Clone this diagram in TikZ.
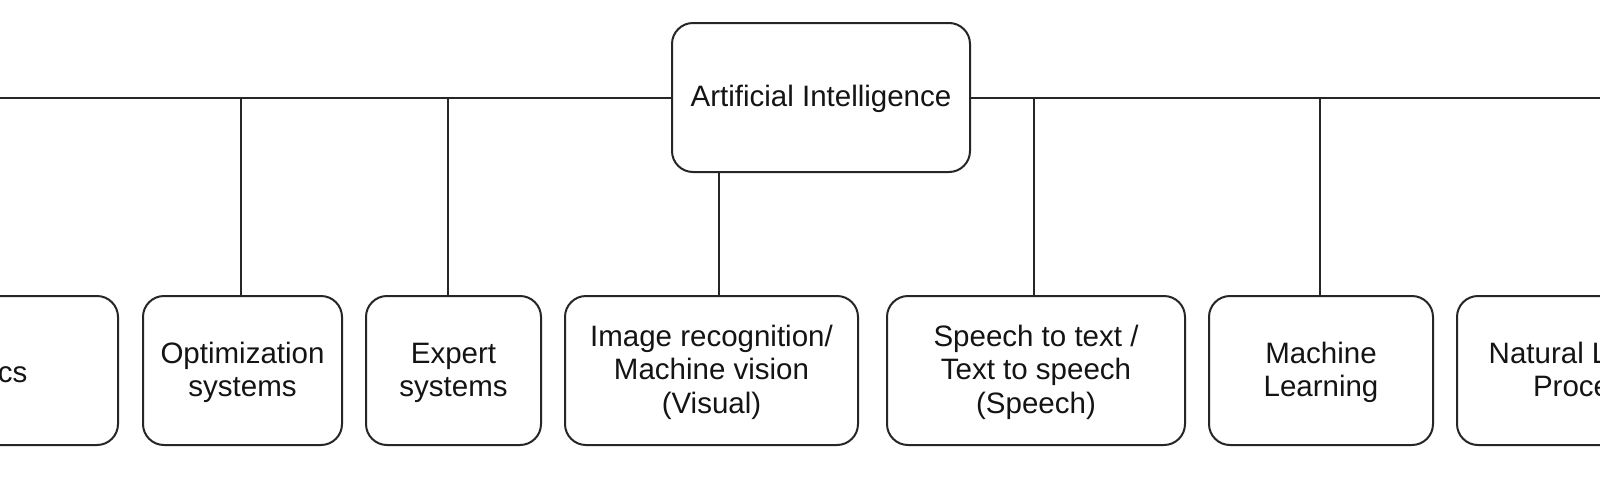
\documentclass[tikz,border=0pt]{standalone}
\usepackage{fontspec}
\setmainfont{Liberation Sans}
\newcommand\tup{\rule{0pt}{25pt}}
\begin{document}
\begin{tikzpicture}[x=1pt,y=-1pt,
  box/.style={draw=black!85, line width=2pt, rounded corners=21pt, fill=white,
    inner sep=0pt, align=center, minimum height=149pt, text=black!92,
    font=\fontsize{29.5}{33.5}\selectfont},
  conn/.style={draw=black!85, line width=2pt}]
\clip (0,0) rectangle (1600,480);
\fill[white] (0,0) rectangle (1600,480);
\node[box, minimum width=298pt] (ai) at (821,97.5) {\tup Artificial Intelligence};
\node[box, minimum width=296pt] (rob) at (-30,370.5) {\tup Robotics};
\node[box, minimum width=199pt] (opt) at (242.5,370.5) {\tup Optimization\\systems};
\node[box, minimum width=175pt] (exp) at (453.5,370.5) {\tup Expert\\systems};
\node[box, minimum width=293pt] (img) at (711.5,370.5) {\tup Image recognition/\\Machine vision\\(Visual)};
\node[box, minimum width=298pt] (sp) at (1036,370.5) {\tup Speech to text /\\Text to speech\\(Speech)};
\node[box, minimum width=224pt] (ml) at (1321,370.5) {\tup Machine\\Learning};
\node[box, minimum width=298pt] (nlp) at (1606,370.5) {\tup Natural Language\\Processing};
\draw[conn] (rob.north) |- (ai.west);
\draw[conn] ([xshift=-1.5pt]opt.north) |- (ai.west);
\draw[conn] ([xshift=-5.5pt]exp.north) |- (ai.west);
\draw[conn] ([xshift=7.5pt]img.north) -- ([xshift=7.5pt]img.north |- ai.south);
\draw[conn] ([xshift=-2pt]sp.north) |- (ai.east);
\draw[conn] ([xshift=-1pt]ml.north) |- (ai.east);
\draw[conn] (nlp.north) |- (ai.east);
\end{tikzpicture}
\end{document}
